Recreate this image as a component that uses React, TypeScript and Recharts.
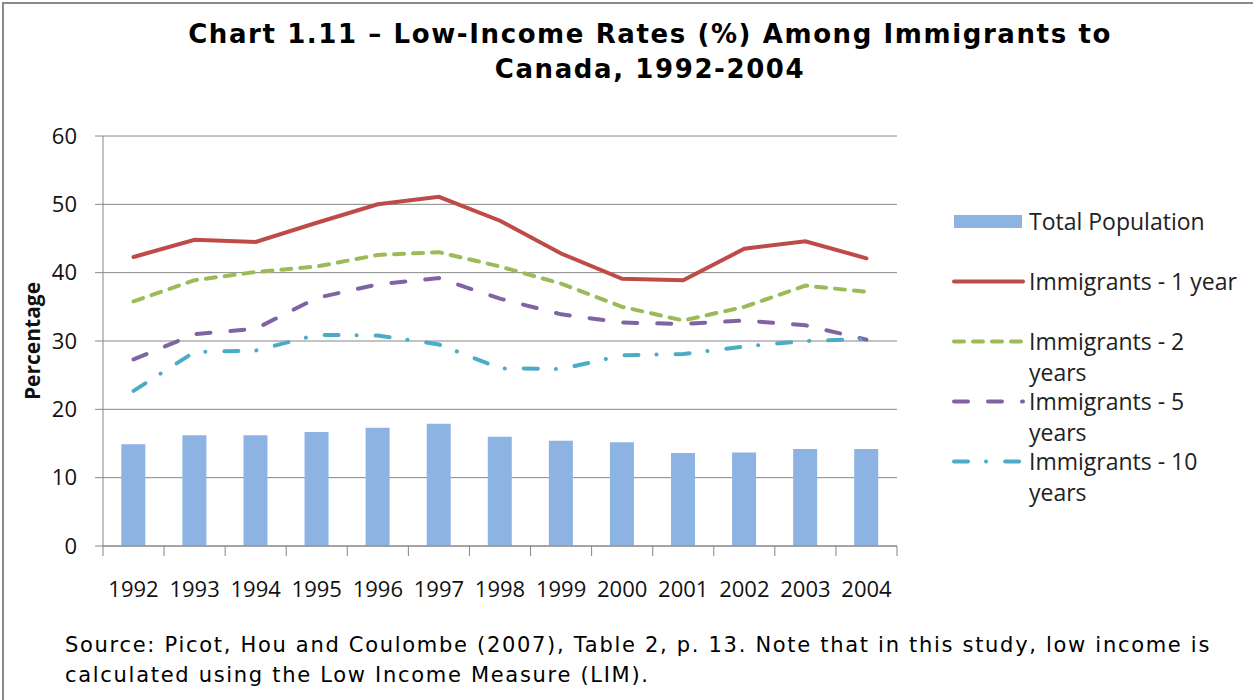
import React from 'react';
import { ComposedChart, Bar, Line, XAxis, YAxis, CartesianGrid, Legend } from 'recharts';

// dados
const years = ['1992', '1993', '1994', '1995', '1996', '1997', '1998', '1999', '2000', '2001', '2002', '2003', '2004'];
const totalPopulation = [14.9, 16.2, 16.2, 16.7, 17.3, 17.9, 16.0, 15.4, 15.2, 13.6, 13.7, 14.2, 14.2];
const immigrants1 = [42.3, 44.8, 44.5, 47.3, 50.0, 51.1, 47.6, 42.8, 39.1, 38.9, 43.5, 44.6, 42.1];
const immigrants2 = [35.8, 38.9, 40.1, 40.9, 42.6, 43.0, 40.9, 38.4, 35.0, 33.0, 35.0, 38.1, 37.2];
const immigrants5 = [27.3, 31.0, 31.8, 36.3, 38.3, 39.2, 36.2, 33.9, 32.7, 32.5, 33.0, 32.3, 30.2];
const immigrants10 = [22.7, 28.4, 28.6, 30.9, 30.8, 29.5, 26.0, 25.9, 27.9, 28.1, 29.2, 30.0, 30.3];
const yTicks = [0, 10, 20, 30, 40, 50, 60];

const chartData = years.map((year, i) => ({
  year,
  total: totalPopulation[i],
  imm1: immigrants1[i],
  imm2: immigrants2[i],
  imm5: immigrants5[i],
  imm10: immigrants10[i],
}));

const lineSeries = [
  { key: 'imm1', name: 'Immigrants - 1 year', color: '#BE4B48', dash: undefined },
  { key: 'imm2', name: 'Immigrants - 2 years', color: '#9BBB59', dash: '10 9' },
  { key: 'imm5', name: 'Immigrants - 5 years', color: '#8064A2', dash: '14 20' },
  { key: 'imm10', name: 'Immigrants - 10 years', color: '#4BACC6', dash: '14 18 0.1 19' },
];
const barColor = '#8DB3E2';
const order = ['total', 'imm1', 'imm2', 'imm5', 'imm10'];

const axisGray = '#868686';
const tickFont = '"Open Sans", sans-serif';
const wideFont = 'Verdana, "DejaVu Sans", sans-serif';
const X_TICK_SIZE = 10;
const X_TICK_MARGIN = 25;

const YearTick = (props: any) => {
  const { x, y, payload, index } = props;
  const half = payload?.offset ?? 0;
  const axisY = y - X_TICK_SIZE - X_TICK_MARGIN;
  return (
    <g>
      <line x1={x - half} x2={x - half} y1={axisY} y2={axisY + X_TICK_SIZE} stroke={axisGray} />
      {index === years.length - 1 && (
        <line x1={x + half} x2={x + half} y1={axisY} y2={axisY + X_TICK_SIZE} stroke={axisGray} />
      )}
      <text x={x} y={y} dy="0.71em" textAnchor="middle" fontFamily={tickFont} fontSize={22} fill="#111">
        {payload.value}
      </text>
    </g>
  );
};

const renderLegend = (props: any) => {
  const items = [...(props.payload || [])].sort(
    (a: any, b: any) => order.indexOf(a.dataKey) - order.indexOf(b.dataKey)
  );
  return (
    <div style={{ fontFamily: tickFont, fontSize: 23, color: '#222' }}>
      {items.map((item: any) => {
        const line = lineSeries.find(s => s.key === item.dataKey);
        return (
          <div key={item.dataKey} style={{ height: 60, display: 'flex', alignItems: 'flex-start' }}>
            <svg width={78} height={31} style={{ flex: 'none' }}>
              {line ? (
                <line x1={3} x2={72} y1={15.5} y2={15.5} stroke={line.color} strokeWidth={4}
                  strokeDasharray={line.dash} strokeLinecap="round" />
              ) : (
                <rect x={3} y={9} width={68} height={13} fill={barColor} />
              )}
            </svg>
            <div style={{ lineHeight: '31px', whiteSpace: 'pre-line' }}>
              {String(item.value).replace(/ years$/, '\nyears')}
            </div>
          </div>
        );
      })}
    </div>
  );
};

const PercentLabel = (props: any) => {
  const { viewBox } = props;
  const cx = viewBox.x + 12;
  const cy = viewBox.y + viewBox.height / 2;
  return (
    <text x={cx} y={cy} transform={`rotate(-90, ${cx}, ${cy})`} textAnchor="middle" dominantBaseline="central"
      fontFamily={tickFont} fontWeight="bold" fontSize={21} fill="#111">
      Percentage
    </text>
  );
};

export default function App() {
  return (
    <div style={{ position: 'absolute', left: 0, top: 0, width: 1253, height: 700, overflow: 'hidden', background: '#fff' }}>
      <div style={{ position: 'absolute', left: 2, top: 2, width: 1300, height: 800, border: '2px solid #8a8a8a' }} />
      <div style={{
        position: 'absolute', left: 100, top: 17, width: 1100, textAlign: 'center',
        fontFamily: wideFont, fontWeight: 'bold', fontSize: 26, letterSpacing: 1.6, lineHeight: '35px', color: '#000',
        whiteSpace: 'nowrap',
      }}>
        Chart 1.11 – Low-Income Rates (%) Among Immigrants to<br />Canada, 1992-2004
      </div>
      <div style={{ position: 'absolute', left: 0, top: 0 }}>
        <ComposedChart width={1253} height={700} data={chartData}
          margin={{ top: 136, right: 356, bottom: 114, left: 20 }} barCategoryGap="30%">
          <CartesianGrid vertical={false} stroke={axisGray} strokeWidth={1} />
          <XAxis dataKey="year" height={40} tickLine={false} tickSize={X_TICK_SIZE} tickMargin={X_TICK_MARGIN}
            axisLine={{ stroke: axisGray }} tick={<YearTick />} interval={0} />
          <YAxis width={83} domain={[0, 60]} ticks={yTicks} tickSize={8} tickMargin={18}
            axisLine={{ stroke: axisGray }} tickLine={{ stroke: axisGray }}
            tick={{ fontFamily: tickFont, fontSize: 22, fill: '#111' }}
            label={<PercentLabel />} />
          <Bar dataKey="total" name="Total Population" fill={barColor} isAnimationActive={false} />
          {lineSeries.map(s => (
            <Line key={s.key} type="linear" dataKey={s.key} name={s.name} stroke={s.color} strokeWidth={4}
              strokeDasharray={s.dash} strokeLinecap="round" dot={false} activeDot={false} isAnimationActive={false} />
          ))}
          <Legend layout="vertical" align="center" verticalAlign="middle" content={renderLegend}
            wrapperStyle={{ left: 951, top: 206, width: 300 }} />
        </ComposedChart>
      </div>
      <div style={{
        position: 'absolute', left: 65, top: 630, fontFamily: wideFont, fontSize: 21, letterSpacing: 1.7,
        lineHeight: '30px', color: '#000', whiteSpace: 'nowrap',
      }}>
        Source: Picot, Hou and Coulombe (2007), Table 2, p. 13. Note that in this study, low income is<br />
        calculated using the Low Income Measure (LIM).
      </div>
    </div>
  );
}
